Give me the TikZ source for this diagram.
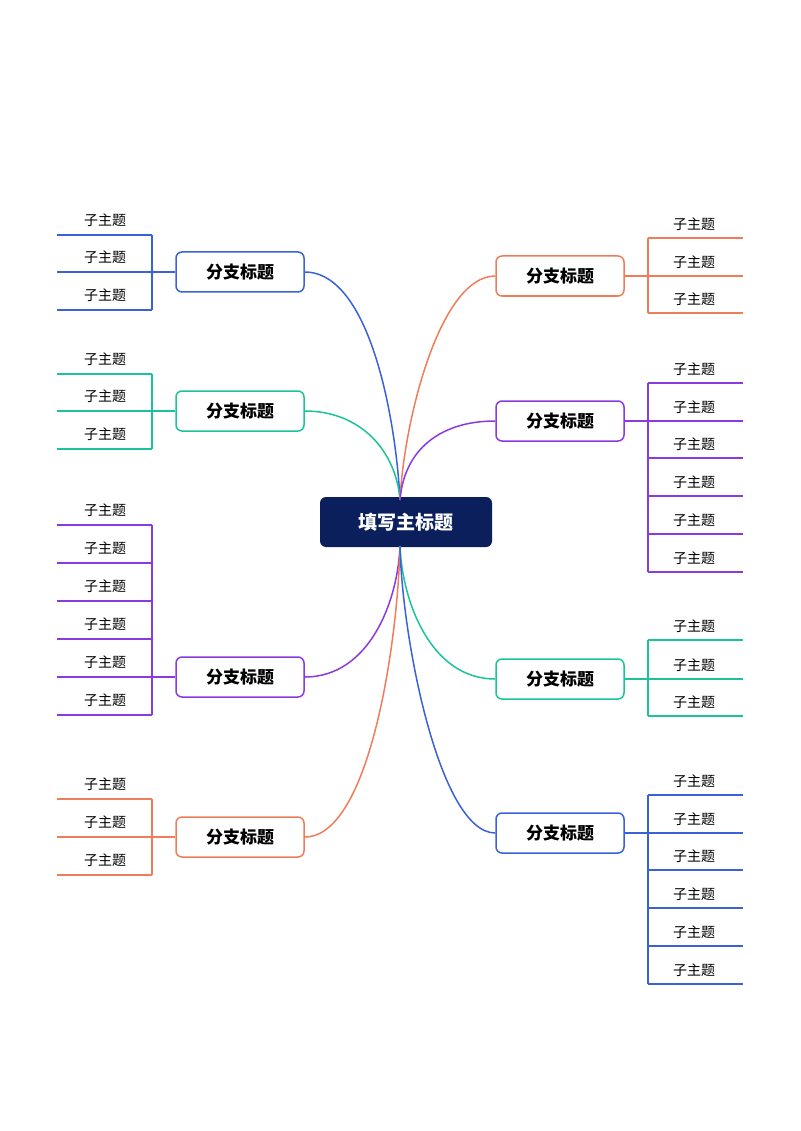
\documentclass[tikz,border=0pt]{standalone}
\usepackage{fontspec}
\newfontfamily\cjk{Noto Sans CJK SC}
\usetikzlibrary{positioning}
\definecolor{cblue}{HTML}{3A62D8}
\definecolor{cteal}{HTML}{1CC39A}
\definecolor{cpurple}{HTML}{8A3BE0}
\definecolor{corange}{HTML}{EF7D5B}
\definecolor{cnavy}{HTML}{0A1F5C}

\begin{document}
\begin{tikzpicture}
    [x=1pt,y=-1pt,line width=1.5pt,
     every node/.style={font=\cjk},
     branch/.style={draw, rounded corners=6pt, fill=white, minimum width=128pt, minimum height=40pt, font=\cjk\bfseries\fontsize{17}{17}\selectfont},
     sub/.style={font=\cjk\fontsize{14}{14}\selectfont, inner sep=0pt}]
  \useasboundingbox (0,0) rectangle (800,1131);
  \node[fill=cnavy, text=white, rounded corners=6pt, minimum width=172pt, minimum height=50pt, font=\cjk\bfseries\fontsize{19}{19}\selectfont] (c) at (406,522) {填写主标题};
  \coordinate (ct) at (400,500);
  \coordinate (cb) at (400,546);

  % left branches
  \foreach \n/\y/\col/\yfirst/\ylast/\lines in {b1/272/cblue/235/310/{235,272,310}, b2/411/cteal/374/449/{374,411,449},
      b3/677/cpurple/525/715/{525,563,601,639,677,715}, b4/837/corange/799/875/{799,837,875}} {
    \node[branch, draw=\col] (\n) at (240,\y) {分支标题};
    \foreach \l in \lines {
      \draw[\col] (57,\l) -- (152,\l);
      \node[sub] at (105,\l-15) {子主题};
    }
    \coordinate (\n t) at (152,\yfirst);
    \coordinate (\n b) at (152,\ylast);
    \coordinate (\n j) at (152,\y);
    \draw[\col] (\n t) -- (\n b);
    \draw[\col] (\n j) -- (\n.west);
  }

  % right branches
  \foreach \n/\y/\col/\yfirst/\ylast/\lines in {b5/276/corange/238/313/{238,276,313}, b6/421/cpurple/383/572/{383,421,458,496,534,572},
      b7/679/cteal/640/716/{640,679,716}, b8/833/cblue/795/984/{795,833,870,908,946,984}} {
    \node[branch, draw=\col] (\n) at (560,\y) {分支标题};
    \foreach \l in \lines {
      \draw[\col] (648,\l) -- (743,\l);
      \node[sub] at (694,\l-14) {子主题};
    }
    \coordinate (\n t) at (648,\yfirst);
    \coordinate (\n b) at (648,\ylast);
    \coordinate (\n j) at (648,\y);
    \draw[\col] (\n t) -- (\n b);
    \draw[\col] (\n j) -- (\n.east);
  }

  % curves to the centre
  \draw[cblue] (b1.east) .. controls (370,272) and (396,420) .. (ct);
  \draw[cteal] (b2.east) .. controls (360,411) and (396,450) .. (ct);
  \draw[corange] (b5.west) .. controls (440,276) and (404,420) .. (ct);
  \draw[cpurple] (b6.west) .. controls (440,421) and (404,450) .. (ct);
  \draw[cpurple] (b3.east) .. controls (370,677) and (398,600) .. (cb);
  \draw[corange] (b4.east) .. controls (370,837) and (398,640) .. (cb);
  \draw[cteal] (b7.west) .. controls (430,679) and (402,600) .. (cb);
  \draw[cblue] (b8.west) .. controls (440,833) and (402,640) .. (cb);
\end{tikzpicture}
\end{document}
